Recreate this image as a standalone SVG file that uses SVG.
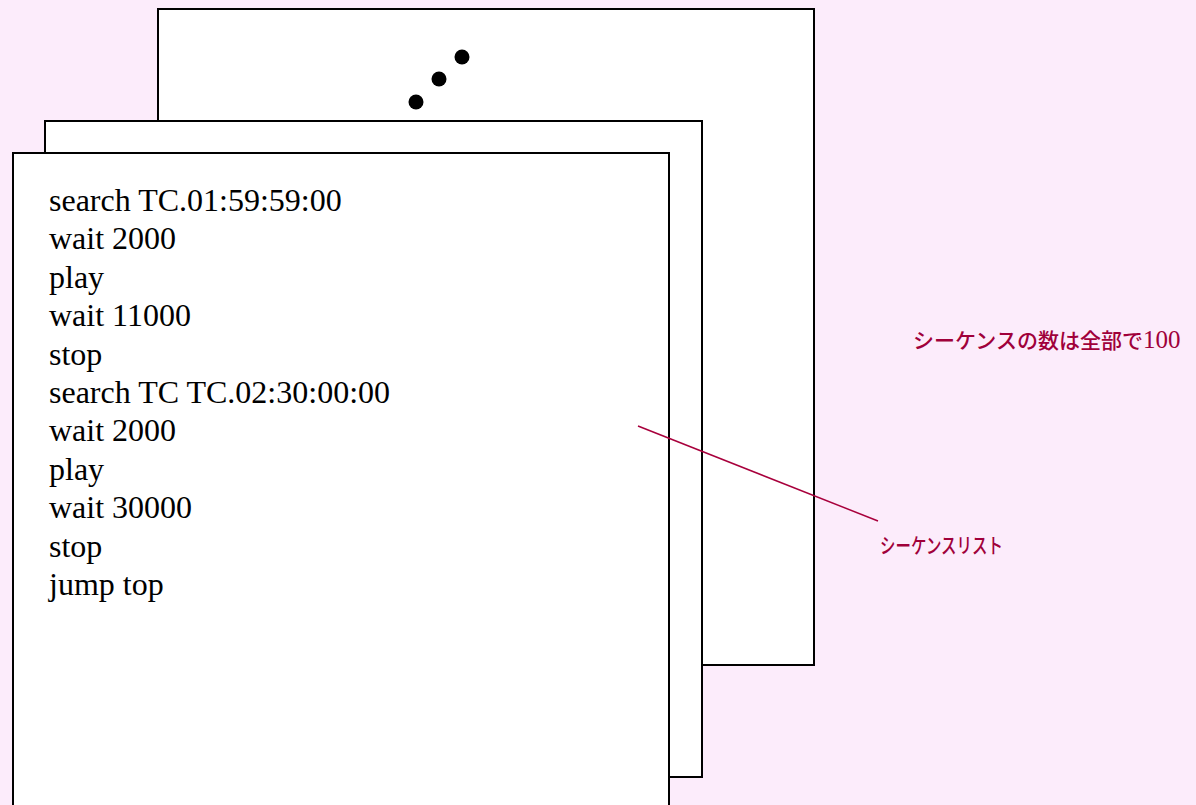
<svg xmlns="http://www.w3.org/2000/svg" width="1196" height="805" viewBox="0 0 1196 805">
<style>
.sheet{fill:#ffffff;stroke:#000000;stroke-width:2}
.code{font-family:"Liberation Serif","Times New Roman",serif;font-size:32px;fill:#000000}
.note{font-family:"Noto Sans CJK JP","Noto Sans",sans-serif;fill:#a0003a;font-weight:500}
.num{font-family:"Liberation Serif",serif;font-weight:normal}
</style>
<rect x="0" y="0" width="1196" height="805" fill="#fcecfb"/>
<g id="sheet-back">
<rect class="sheet" x="158" y="9" width="656" height="656"/>
<circle cx="416" cy="102" r="7.5" fill="#000"/>
<circle cx="439" cy="79" r="7.5" fill="#000"/>
<circle cx="462" cy="57" r="7.5" fill="#000"/>
</g>
<g id="sheet-middle">
<rect class="sheet" x="45" y="121" width="657" height="656"/>
</g>
<g id="sheet-front">
<rect class="sheet" x="13" y="153" width="656" height="670"/>
<text class="code" x="49" y="211">search TC.01:59:59:00</text>
<text class="code" x="49" y="249.4">wait 2000</text>
<text class="code" x="49" y="287.8">play</text>
<text class="code" x="49" y="326.2">wait 11000</text>
<text class="code" x="49" y="364.6">stop</text>
<text class="code" x="49" y="403">search TC TC.02:30:00:00</text>
<text class="code" x="49" y="441.4">wait 2000</text>
<text class="code" x="49" y="479.8">play</text>
<text class="code" x="49" y="518.2">wait 30000</text>
<text class="code" x="49" y="556.6">stop</text>
<text class="code" x="49" y="595">jump top</text>
</g>
<g id="connectors">
<line x1="638" y1="426" x2="878" y2="521" stroke="#a8003c" stroke-width="1.5"/>
</g>
<g id="label-count">
<text class="note" x="913" y="348" font-size="21">シーケンスの数は全部で<tspan class="num" font-size="25">100</tspan></text>
</g>
<g id="label-list">
<text class="note" x="880" y="553" font-size="21" textLength="123" lengthAdjust="spacingAndGlyphs">シーケンスリスト</text>
</g>
</svg>
